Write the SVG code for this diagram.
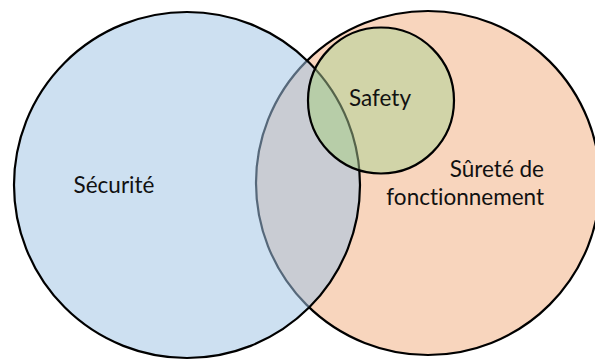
<svg xmlns="http://www.w3.org/2000/svg" width="595" height="363" viewBox="0 0 595 363">
  <defs>
    <clipPath id="clipLeft"><circle cx="187" cy="185" r="173"/></clipPath>
    <clipPath id="clipSafety"><circle cx="381" cy="100.5" r="73"/></clipPath>
    <style>
      .lbl { font-family: "Lato", "Open Sans", "Liberation Sans", sans-serif; font-size: 22.5px; fill: #111; font-variant-ligatures: none; }
      .edge { fill: none; stroke: #000; stroke-width: 2.2; }
    </style>
  </defs>
  <rect width="595" height="363" fill="#ffffff"/>

  <g id="surete">
    <circle cx="428" cy="183" r="172" fill="#f8d5bd"/>
    <circle class="edge" cx="428" cy="183" r="172"/>
  </g>

  <g id="securite">
    <circle cx="187" cy="185" r="173" fill="#cde0f1"/>
    <circle cx="428" cy="183" r="172" fill="#c9ccd3" clip-path="url(#clipLeft)"/>
    <circle cx="428" cy="183" r="172" fill="none" stroke="#56687a" stroke-width="2.2" clip-path="url(#clipLeft)"/>
    <circle class="edge" cx="187" cy="185" r="173"/>
  </g>

  <g id="safety">
    <circle cx="381" cy="100.5" r="73" fill="#d1d4a8"/>
    <circle cx="187" cy="185" r="173" fill="#b7cda8" clip-path="url(#clipSafety)"/>
    <circle cx="187" cy="185" r="173" fill="none" stroke="#55634a" stroke-width="2.2" clip-path="url(#clipSafety)"/>
    <circle class="edge" cx="381" cy="100.5" r="73"/>
  </g>

  <g id="labels">
    <text class="lbl" x="114" y="193" text-anchor="middle">Sécurité</text>
    <text class="lbl" x="380" y="106" text-anchor="middle">Safety</text>
    <text class="lbl" x="544" y="177" text-anchor="end">Sûreté de</text>
    <text class="lbl" x="544" y="205" text-anchor="end">fonctionnement</text>
  </g>
</svg>
